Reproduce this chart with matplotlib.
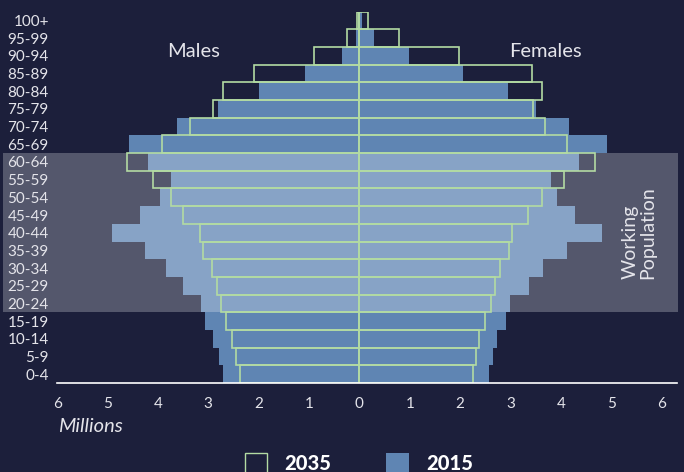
import numpy as np
import matplotlib.pyplot as plt
from matplotlib.patches import Rectangle

ages = ['0-4', '5-9', '10-14', '15-19', '20-24', '25-29', '30-34', '35-39',
        '40-44', '45-49', '50-54', '55-59', '60-64', '65-69', '70-74',
        '75-79', '80-84', '85-89', '90-94', '95-99', '100+']

# millions, bottom (0-4) to top (100+)
males_2015 = [2.71, 2.78, 2.90, 3.06, 3.14, 3.51, 3.83, 4.25, 4.92, 4.35, 3.95,
              3.75, 4.19, 4.57, 3.63, 2.80, 1.99, 1.07, 0.34, 0.07, 0.02]
females_2015 = [2.58, 2.65, 2.74, 2.92, 3.00, 3.36, 3.65, 4.13, 4.81, 4.29, 3.93,
                3.81, 4.37, 4.92, 4.17, 3.51, 2.96, 2.05, 0.99, 0.29, 0.06]
males_2035 = [2.38, 2.44, 2.52, 2.64, 2.75, 2.83, 2.93, 3.11, 3.16, 3.50, 3.75,
              4.10, 4.61, 3.92, 3.36, 2.91, 2.71, 2.10, 0.91, 0.24, 0.05]
females_2035 = [2.25, 2.31, 2.38, 2.49, 2.61, 2.69, 2.79, 2.97, 3.04, 3.34, 3.63,
                4.06, 4.67, 4.12, 3.69, 3.44, 3.63, 3.43, 1.98, 0.79, 0.18]

xticks = [-6, -5, -4, -3, -2, -1, 0, 1, 2, 3, 4, 5, 6]
working_rows = ('20-24', '60-64')

BG = '#1c1f3b'
BLUE = '#5f85b3'
GREEN = '#b3dba3'
TEXT = '#e4e4ea'
FONT = 'Lato'

plt.rcParams['font.family'] = [FONT, 'DejaVu Sans']

fig = plt.figure(figsize=(6.84, 4.72), dpi=100)
fig.set_facecolor(BG)
ax = fig.add_axes([0.0836, 0.1886, 0.9057, 0.7867])
ax.set_facecolor(BG)

y = np.arange(len(ages))
ax.barh(y, -np.array(males_2015), height=1.0, color=BLUE, zorder=1)
ax.barh(y, females_2015, height=1.0, color=BLUE, zorder=1)
ax.barh(y, -np.array(males_2035), height=1.0, facecolor='none',
        edgecolor=GREEN, linewidth=1.2, zorder=2)
ax.barh(y, females_2035, height=1.0, facecolor='none',
        edgecolor=GREEN, linewidth=1.2, zorder=2)

# working population band (light overlay)
lo = ages.index(working_rows[0]) - 0.5
hi = ages.index(working_rows[1]) + 0.5
ax.axhspan(lo, hi, xmin=-0.0875, xmax=1.002, color='white', alpha=0.25,
           linewidth=0, zorder=1.2, clip_on=False)

ax.set_xlim(-6, 6.3)
ax.set_ylim(-0.5, len(ages) - 0.5)
ax.set_xticks(xticks)
ax.set_xticklabels([str(abs(t)) for t in xticks])
ax.set_yticks(y)
ax.set_yticklabels(ages)
ax.tick_params(axis='both', length=0, colors=TEXT, labelsize=11)
ax.tick_params(axis='x', pad=10)
ax.tick_params(axis='y', pad=6)
for lab in ax.get_yticklabels():
    lab.set_verticalalignment('center_baseline')

for side in ['top', 'right', 'left']:
    ax.spines[side].set_visible(False)
ax.spines['bottom'].set_color('white')
ax.spines['bottom'].set_linewidth(1.2)
ax.spines['bottom'].set_zorder(3)

ax.text(-3.3, 18.25, 'Males', color=TEXT, fontsize=14.5, ha='center', va='center')
ax.text(3.7, 18.25, 'Females', color=TEXT, fontsize=14.5, ha='center', va='center')
ax.text(5.55, 8.0, 'Working\nPopulation', color=TEXT, fontsize=14,
        rotation=90, ha='center', va='center', multialignment='left',
        linespacing=1.05)

fig.text(58 / 684, 1 - 426 / 472, 'Millions', color=TEXT, fontsize=14.5,
         style='italic', ha='left', va='center')

# legend
fig.patches.append(Rectangle((245 / 684, -0.02), 22 / 684, 0.061,
                             transform=fig.transFigure, facecolor='none',
                             edgecolor=GREEN, linewidth=1.0))
fig.patches.append(Rectangle((386 / 684, -0.02), 23 / 684, 0.061,
                             transform=fig.transFigure, facecolor=BLUE,
                             edgecolor='none'))
fig.text(284 / 684, 1 - 464 / 472, '2035', color='white', fontsize=14.5,
         fontweight='black', ha='left', va='center')
fig.text(426 / 684, 1 - 464 / 472, '2015', color='white', fontsize=14.5,
         fontweight='black', ha='left', va='center')

fig.savefig('out.png', facecolor=BG)
